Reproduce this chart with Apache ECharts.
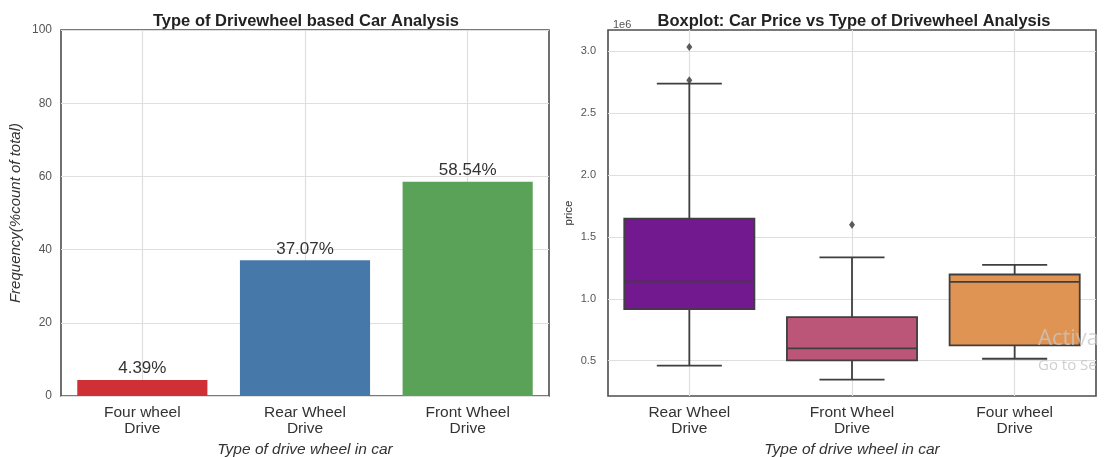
<!DOCTYPE html>
<html>
<head>
<meta charset="utf-8">
<script src="https://cdn.jsdelivr.net/npm/echarts@6/dist/echarts.min.js"></script>
<style>
html,body{margin:0;padding:0;background:#fff;}
#c{width:1104px;height:457px;}
</style>
</head>
<body>
<div id="c"></div>
<script>
// ---- Data ----
const barCategories = ['Four wheel\nDrive', 'Rear Wheel\nDrive', 'Front Wheel\nDrive'];
const barValues = [4.39, 37.07, 58.54];
const barLabels = ['4.39%', '37.07%', '58.54%'];

const boxCategories = ['Rear Wheel\nDrive', 'Front Wheel\nDrive', 'Four wheel\nDrive'];
const whiskerLow  = [0.460, 0.347, 0.516];
const q1Values    = [0.917, 0.503, 0.624];
const medianValues= [1.140, 0.600, 1.137];
const q3Values    = [1.648, 0.852, 1.197];
const whiskerHigh = [2.740, 1.336, 1.274];
const outlierCat  = [0, 0, 1];
const outlierVal  = [3.035, 2.766, 1.600];

// ---- Styles ----
const FONT = '"Liberation Sans", Arial, sans-serif';
const barColors = ['#cf3036', '#4679aa', '#59a257'];
const boxColors = ['#73198f', '#bc5678', '#e09454'];
const edge = '#3f3f3f';
const gridLineColor = '#dfdfdf';

const boxData = boxCategories.map((c, i) => [i, whiskerLow[i], q1Values[i], medianValues[i], q3Values[i], whiskerHigh[i]]);
const outlierData = outlierCat.map((c, i) => [c, outlierVal[i]]);

const chart = echarts.init(document.getElementById('c'), null, {renderer: 'canvas'});

const xLabelStyle = {color: '#333', fontSize: 15.5, fontFamily: FONT, margin: 9, lineHeight: 16};
const xNameStyle = {fontFamily: FONT, fontSize: 15.5, fontStyle: 'italic', color: '#333'};

const option = {
  backgroundColor: '#fff',
  animation: false,
  title: [
    {text: 'Type of Drivewheel based Car Analysis', left: 301, top: 8, textAlign: 'center',
     textStyle: {fontFamily: FONT, fontSize: 16.5, fontWeight: 'bold', color: '#222'}},
    {text: 'Boxplot: Car Price vs Type of Drivewheel Analysis', left: 849, top: 8, textAlign: 'center',
     textStyle: {fontFamily: FONT, fontSize: 16.5, fontWeight: 'bold', color: '#222'}},
    {text: '1e6', left: 608, top: 14,
     textStyle: {fontFamily: FONT, fontSize: 11, fontWeight: 'normal', color: '#555'}}
  ],
  grid: [
    {left: 61, top: 30, width: 488, height: 366, show: true, borderColor: '#4d4d4d', borderWidth: 1.6,
     backgroundColor: 'transparent', containLabel: false, outerBoundsMode: 'none'},
    {left: 608, top: 30, width: 488, height: 366, show: true, borderColor: '#4d4d4d', borderWidth: 1.6,
     backgroundColor: 'transparent', containLabel: false, outerBoundsMode: 'none'}
  ],
  xAxis: [
    {type: 'category', gridIndex: 0, data: barCategories,
     name: 'Type of drive wheel in car', nameLocation: 'middle', nameGap: 41,
     nameTextStyle: xNameStyle,
     axisLine: {show: false}, axisTick: {show: false},
     axisLabel: xLabelStyle,
     splitLine: {show: true, alignWithLabel: true, lineStyle: {color: gridLineColor, width: 1.2}}},
    {type: 'category', gridIndex: 1, data: boxCategories,
     name: 'Type of drive wheel in car', nameLocation: 'middle', nameGap: 41,
     nameTextStyle: xNameStyle,
     axisLine: {show: false}, axisTick: {show: false},
     axisLabel: xLabelStyle,
     splitLine: {show: true, alignWithLabel: true, lineStyle: {color: gridLineColor, width: 1.2}}}
  ],
  yAxis: [
    {type: 'value', gridIndex: 0, min: 0, max: 100, interval: 20,
     name: 'Frequency(%count of total)', nameLocation: 'middle', nameGap: 38, nameRotate: 90,
     nameTextStyle: {fontFamily: FONT, fontSize: 15, fontStyle: 'italic', color: '#333'},
     axisLine: {show: false}, axisTick: {show: false},
     axisLabel: {color: '#555', fontSize: 12, fontFamily: FONT, margin: 9},
     splitLine: {show: true, lineStyle: {color: gridLineColor, width: 1.2}}},
    {type: 'value', gridIndex: 1, min: 0.215, max: 3.173, splitNumber: 6,
     name: 'price', nameLocation: 'middle', nameGap: 33, nameRotate: 90,
     nameTextStyle: {fontFamily: FONT, fontSize: 11.5, color: '#333'},
     axisLine: {show: false}, axisTick: {show: false},
     axisLabel: {color: '#555', fontSize: 11, fontFamily: FONT, margin: 12,
       showMinLabel: false, showMaxLabel: false, formatter: v => v.toFixed(1)},
     splitLine: {show: true, showMinLine: false, showMaxLine: false, lineStyle: {color: gridLineColor, width: 1.2}}}
  ],
  series: [
    {type: 'bar', xAxisIndex: 0, yAxisIndex: 0, barCategoryGap: '20%',
     data: barValues.map((v, i) => ({value: v, itemStyle: {color: barColors[i]}})),
     label: {show: true, position: 'top', distance: 3, color: '#333', fontSize: 17, fontFamily: FONT,
       formatter: p => barLabels[p.dataIndex]}},
    {type: 'custom', xAxisIndex: 1, yAxisIndex: 1,
     data: boxData,
     encode: {x: 0, y: [1, 2, 3, 4, 5]},
     renderItem: function (params, api) {
       const idx = api.value(0);
       const bw = api.size([1, 0])[0] * 0.8;
       const cw = bw / 2;
       const pLow = api.coord([idx, api.value(1)]);
       const pQ1 = api.coord([idx, api.value(2)]);
       const pMed = api.coord([idx, api.value(3)]);
       const pQ3 = api.coord([idx, api.value(4)]);
       const pHigh = api.coord([idx, api.value(5)]);
       const x = pMed[0];
       const ls = {stroke: edge, lineWidth: 1.8};
       return {type: 'group', children: [
         {type: 'line', shape: {x1: x, y1: pLow[1], x2: x, y2: pQ1[1]}, style: ls},
         {type: 'line', shape: {x1: x, y1: pQ3[1], x2: x, y2: pHigh[1]}, style: ls},
         {type: 'line', shape: {x1: x - cw / 2, y1: pLow[1], x2: x + cw / 2, y2: pLow[1]}, style: ls},
         {type: 'line', shape: {x1: x - cw / 2, y1: pHigh[1], x2: x + cw / 2, y2: pHigh[1]}, style: ls},
         {type: 'rect', shape: {x: x - bw / 2, y: pQ3[1], width: bw, height: pQ1[1] - pQ3[1]},
          style: {fill: boxColors[params.dataIndex], stroke: edge, lineWidth: 1.8}},
         {type: 'line', shape: {x1: x - bw / 2, y1: pMed[1], x2: x + bw / 2, y2: pMed[1]}, style: ls}
       ]};
     }},
    {type: 'scatter', xAxisIndex: 1, yAxisIndex: 1, data: outlierData,
     symbol: 'diamond', symbolSize: [6, 8], itemStyle: {color: '#333'}, z: 5}
  ],
  graphic: [
    {type: 'text', left: 1038, top: 328, silent: true, z: 100,
     style: {text: 'Activa', fill: 'rgba(200,200,200,0.75)', font: '22px "Open Sans", sans-serif'}},
    {type: 'text', left: 1038, top: 358, silent: true, z: 100,
     style: {text: 'Go to Se', fill: 'rgba(195,195,195,0.8)', font: '15px "Open Sans", sans-serif'}}
  ]
};
chart.setOption(option);
</script>
</body>
</html>
